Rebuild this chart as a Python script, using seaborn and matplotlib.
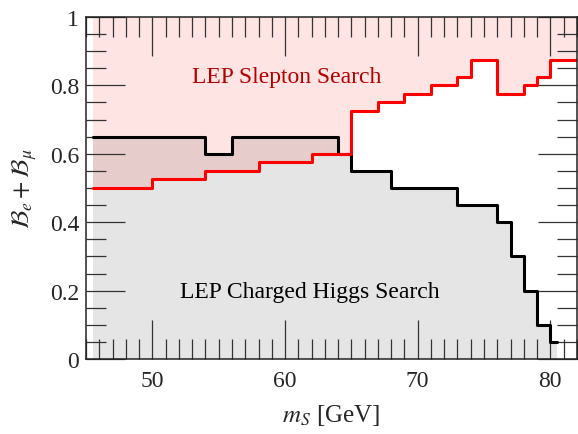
import numpy as np
import pandas as pd
import matplotlib
matplotlib.use("Agg")
import matplotlib.pyplot as plt
import seaborn as sns
from matplotlib.ticker import MultipleLocator, FixedLocator, FixedFormatter

# --- data ---
higgs_edges = [45.5, 54, 56, 64, 65, 68, 73, 76, 77, 78, 79, 80, 80.5]
higgs_vals = [0.65, 0.60, 0.65, 0.60, 0.55, 0.50, 0.45, 0.40, 0.30, 0.20, 0.10, 0.05]

slep_edges = [45.5, 50, 54, 58, 62, 65, 67, 69, 71, 73, 74, 76, 78, 79, 80, 82]
slep_vals = [0.50, 0.525, 0.55, 0.575, 0.60, 0.725, 0.75, 0.775, 0.80, 0.825,
             0.875, 0.775, 0.80, 0.825, 0.875]

x_ticks = [50, 60, 70, 80]
y_ticks = [0, 0.2, 0.4, 0.6, 0.8, 1.0]
y_tick_labels = ["0", "0.2", "0.4", "0.6", "0.8", "1"]

sns.set_theme(style="ticks")
plt.rcParams["font.family"] = ["Liberation Serif", "DejaVu Serif"]
plt.rcParams["mathtext.fontset"] = "stix"

fig = plt.figure(figsize=(5.78, 4.35), dpi=100)
ax = fig.add_axes([0.149, 0.172, 0.849, 0.787])
ax.set_axisbelow(False)

hx = np.array(higgs_edges)
hy = np.array(higgs_vals + [higgs_vals[-1]])
sx = np.array(slep_edges)
sy = np.array(slep_vals + [slep_vals[-1]])

# fills
ax.fill_between(hx, 0, hy, step="post", color="#e5e5e5", linewidth=0, zorder=1)
ax.fill_between(sx, sy, 1, step="post", color=(1.0, 0.0, 0.0, 0.105), linewidth=0, zorder=2)

dfh = pd.DataFrame({"x": hx, "y": hy})
dfs = pd.DataFrame({"x": sx, "y": sy})
sns.lineplot(data=dfh, x="x", y="y", drawstyle="steps-post", estimator=None,
             sort=False, color="black", linewidth=2.2, ax=ax, zorder=4)
sns.lineplot(data=dfs, x="x", y="y", drawstyle="steps-post", estimator=None,
             sort=False, color="#ff0000", linewidth=2.2, ax=ax, zorder=5)

ax.set_xlim(45, 82)
ax.set_ylim(0, 1)

ax.xaxis.set_major_locator(FixedLocator(x_ticks))
ax.xaxis.set_minor_locator(MultipleLocator(1))
ax.yaxis.set_major_locator(FixedLocator(y_ticks))
ax.yaxis.set_major_formatter(FixedFormatter(y_tick_labels))
ax.yaxis.set_minor_locator(MultipleLocator(0.05))

ax.tick_params(which="both", direction="in", top=True, right=True,
               color="#333333", labelsize=17)
ax.tick_params(which="major", length=28, width=0.9)
ax.tick_params(which="minor", length=14.5, width=0.9)
ax.tick_params(axis="x", which="major", pad=8)
ax.tick_params(axis="y", which="major", pad=5)
for sp in ax.spines.values():
    sp.set_linewidth(1.1)
    sp.set_color("#222222")
    sp.set_zorder(7)

ax.set_xlabel(r"$m_S$ [GeV]", fontsize=18, labelpad=8)
ax.set_ylabel(r"$\mathcal{B}_e + \mathcal{B}_\mu$", fontsize=18, labelpad=8)

ax.text(60.1, 0.825, "LEP Slepton Search", color="#b40000", fontsize=17,
        ha="center", va="center", zorder=8)
ax.text(61.9, 0.198, "LEP Charged Higgs Search", color="black", fontsize=17,
        ha="center", va="center", zorder=8)

fig.savefig("out.png", dpi=100)
